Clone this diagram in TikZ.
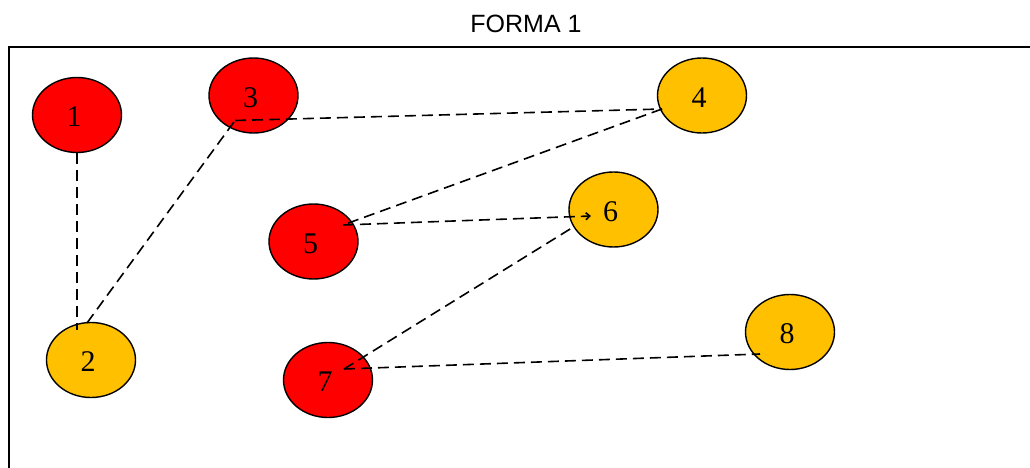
\documentclass[tikz,border=0pt]{standalone}
\usepackage{fontspec}
\setmainfont{Liberation Serif}
\newfontfamily\titlefont{Liberation Sans}
\usetikzlibrary{shapes.geometric,arrows.meta}
\definecolor{nodered}{HTML}{FF0000}
\definecolor{nodegold}{HTML}{FFC000}
\tikzset{
  blob/.style={ellipse, draw=black, line width=1.4pt, minimum width=89pt,
    minimum height=75pt, inner sep=0pt},
  redblob/.style={blob, fill=nodered},
  goldblob/.style={blob, fill=nodegold},
  lbl/.style={font=\fontsize{30}{32}\selectfont, xshift=-3pt, yshift=-2pt, inner sep=0pt},
  link/.style={draw=black, line width=1.6pt, dash pattern=on 11pt off 6pt},
}
\begin{document}
\begin{tikzpicture}[x=1pt,y=-1pt]
\useasboundingbox (0,0) rectangle (1030,468);
\clip (0,0) rectangle (1030,468);
% title and frame
\node[font=\titlefont\fontsize{25}{30}\selectfont] (title) at (526,24) {FORMA 1};
\draw[line width=1.6pt] (9,47) rectangle (1060,500);
% vertices
\node[redblob,  label={[lbl]center:1}] (n1) at (77,115)      {};
\node[goldblob, label={[lbl]center:2}] (n2) at (91,360)      {};
\node[redblob,  label={[lbl]center:3}] (n3) at (253.5,95.5)  {};
\node[goldblob, label={[lbl]center:4}] (n4) at (702,95.5)    {};
\node[redblob,  label={[lbl]center:5}] (n5) at (313.5,241.5) {};
\node[goldblob, label={[lbl]center:6}] (n6) at (613.5,209.5) {};
\node[redblob,  label={[lbl]center:7}] (n7) at (328,380)     {};
\node[goldblob, label={[lbl]center:8}] (n8) at (790,332)     {};
% connector end points inside the ellipses
\coordinate (e2a) at (77,330);
\coordinate (e2b) at (87,323);
\coordinate (e3) at (235,120.5);
\coordinate (e4) at (662,109);
\coordinate (e5) at (343,225);
\coordinate (e6a) at (591,216);
\coordinate (e6b) at (575,226);
\coordinate (e7) at (344,369);
\coordinate (e8) at (760,354);
% connectors
\draw[link] (n1.south) -- (e2a);
\draw[link] (e2b) -- (e3);
\draw[link] (e3) -- (e4);
\draw[link] (e4) -- (e5);
\draw[link, -{Straight Barb[length=4pt,width=7pt]}] (e5) -- (e6a);
\draw[link] (e7) -- (e6b);
\draw[link] (e7) -- (e8);
\end{tikzpicture}
\end{document}
